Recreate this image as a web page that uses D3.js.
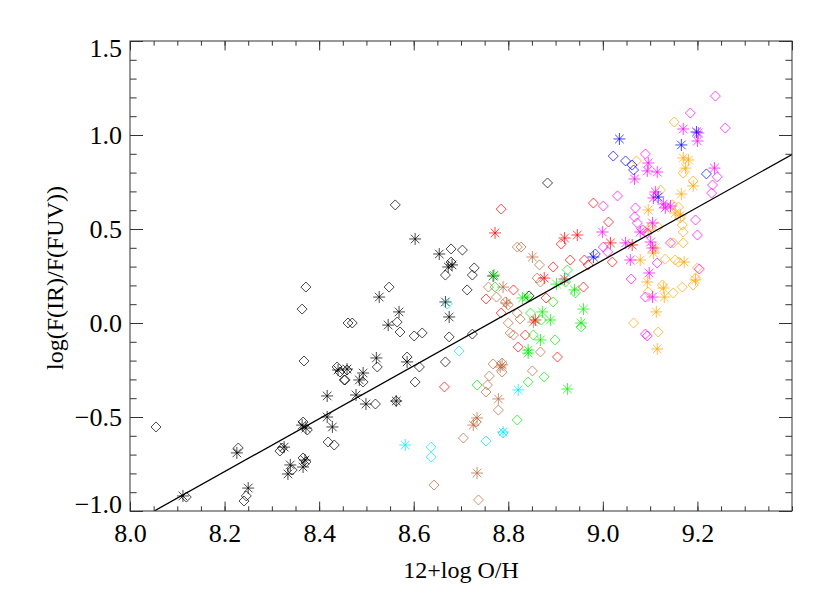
<!DOCTYPE html>
<html>
<head>
<meta charset="utf-8">
<script src="https://cdn.jsdelivr.net/npm/d3@7"></script>
<style>
  body { margin: 0; background: #fff; }
  svg { display: block; }
  svg text { font-family: "Liberation Serif", "Times New Roman", Times, serif !important; fill: #000; }
</style>
</head>
<body>
<script>
// Point groups: [12+log O/H, log(F(IR)/F(FUV))]
const blackDiamonds = [
  [8.372, 0.191], [8.364, 0.074], [8.461, 0.0], [8.055, -0.553], [8.119, -0.926],
  [8.229, -0.665], [8.246, -0.920], [8.241, -0.947], [8.322, -0.665], [8.317, -0.681],
  [8.368, -0.202], [8.343, -0.782], [8.366, -0.527], [8.375, -0.569], [8.366, -0.718],
  [8.372, -0.739], [8.419, -0.633], [8.432, -0.649], [8.438, -0.234], [8.444, -0.261],
  [8.459, -0.25], [8.455, -0.303], [8.883, 0.745], [8.561, 0.628], [8.679, 0.394],
  [8.703, 0.388], [8.679, 0.324], [8.667, 0.255], [8.728, 0.293], [8.724, 0.255],
  [8.548, 0.191], [8.713, 0.176], [8.844, 0.144], [8.565, 0.005], [8.571, -0.048],
  [8.470, 0.0], [8.601, -0.069], [8.618, -0.053], [8.675, -0.074], [8.724, -0.059],
  [8.523, -0.234], [8.493, -0.314], [8.453, -0.303], [8.586, -0.181], [8.612, -0.234],
  [8.667, -0.207], [8.603, -0.314], [8.519, -0.431], [8.563, -0.415]
];
const blackStars = [
  [8.112, -0.920], [8.226, -0.691], [8.250, -0.878], [8.326, -0.660], [8.339, -0.755],
  [8.334, -0.803], [8.364, -0.543], [8.372, -0.559], [8.370, -0.729], [8.366, -0.766],
  [8.417, -0.388], [8.417, -0.500], [8.428, -0.553], [8.440, -0.250], [8.459, -0.245],
  [8.603, 0.447], [8.654, 0.367], [8.673, 0.298], [8.681, 0.309], [8.768, 0.250],
  [8.527, 0.138], [8.569, 0.059], [8.546, -0.011], [8.667, 0.112], [8.675, 0.032],
  [8.521, -0.186], [8.493, -0.266], [8.485, -0.303], [8.586, -0.207], [8.478, -0.383],
  [8.499, -0.431], [8.563, -0.415]
];
const redDiamonds = [
  [8.785, 0.606], [8.912, 0.420], [8.895, 0.298], [8.931, 0.335], [8.811, 0.176],
  [8.753, 0.128], [8.880, 0.133], [8.785, 0.053], [8.836, -0.064], [8.821, -0.128],
  [8.904, -0.181], [8.665, -0.340], [8.980, 0.638], [9.012, 0.537], [8.961, 0.335],
  [8.969, 0.309], [9.020, 0.324], [8.959, 0.191]
];
const redStars = [
  [8.772, 0.479], [8.919, 0.452], [8.876, 0.239], [8.919, 0.234], [8.857, 0.016],
  [8.946, 0.468], [9.016, 0.426], [9.062, 0.415]
];
const brownDiamonds = [
  [8.819, 0.404], [8.827, 0.404], [8.866, 0.309], [8.758, 0.191], [8.775, 0.138],
  [8.861, 0.239], [8.868, 0.218], [8.794, 0.112], [8.800, 0.096], [8.819, 0.053],
  [8.825, 0.021], [8.800, 0.0], [8.804, -0.053], [8.811, -0.064], [8.868, -0.154],
  [8.768, -0.218], [8.787, -0.213], [8.787, -0.261], [8.760, -0.282], [8.756, -0.330],
  [8.753, -0.367], [8.851, -0.255], [8.779, -0.463], [8.732, -0.527], [8.705, -0.612],
  [8.643, -0.862], [8.737, -0.941]
];
const brownStars = [
  [8.851, 0.351], [8.789, 0.191], [8.796, 0.106], [8.853, 0.005], [8.787, -0.223],
  [8.783, -0.234], [8.779, -0.404], [8.726, -0.543], [8.734, -0.505], [8.734, -0.798]
];
const greenDiamonds = [
  [8.772, 0.191], [8.895, 0.112], [8.921, 0.218], [8.847, 0.053], [8.870, 0.016],
  [8.853, -0.064], [8.899, -0.090], [8.734, -0.330], [8.842, -0.314], [8.876, -0.287],
  [8.819, -0.516], [8.925, 0.282], [8.942, 0.160], [8.954, -0.021]
];
const greenStars = [
  [8.770, 0.255], [8.830, 0.133], [8.840, 0.138], [8.902, 0.207], [8.872, 0.059],
  [8.889, 0.016], [8.868, -0.090], [8.842, -0.144], [8.842, -0.160], [8.925, -0.351],
  [8.940, 0.176], [8.959, 0.074], [8.954, 0.0]
];
const cyanDiamonds = [
  [8.671, 0.101], [8.696, -0.149], [8.789, -0.585], [8.753, -0.628], [8.637, -0.660],
  [8.637, -0.713], [8.923, 0.239]
];
const cyanStars = [[8.821, -0.356], [8.789, -0.580], [8.582, -0.649]];
const blueDiamonds = [
  [9.022, 0.888], [9.048, 0.862], [9.062, 0.840], [9.065, 0.814], [9.219, 0.793],
  [8.984, 0.367]
];
const blueStars = [[9.035, 0.979], [9.166, 0.947], [9.198, 1.016], [9.117, 0.670], [8.980, 0.351]];
const magentaDiamonds = [
  [9.238, 1.207], [9.185, 1.117], [9.259, 1.037], [9.090, 0.899], [9.242, 0.777],
  [9.232, 0.734], [9.230, 0.691], [9.031, 0.676], [9.001, 0.622], [9.069, 0.612],
  [9.067, 0.564], [9.073, 0.532], [9.084, 0.495], [9.094, 0.479], [9.196, 0.548],
  [9.200, 0.468], [9.143, 0.426], [9.001, 0.404], [9.010, 0.378], [9.115, 0.319],
  [9.204, 0.287], [9.060, 0.234], [9.090, 0.138], [9.090, -0.059], [9.094, -0.069]
];
const magentaStars = [
  [9.170, 1.032], [9.202, 1.011], [9.200, 0.968], [9.096, 0.851], [9.094, 0.809],
  [9.115, 0.803], [9.067, 0.766], [9.236, 0.824], [9.111, 0.697], [9.107, 0.665],
  [9.128, 0.633], [9.132, 0.612], [9.143, 0.622], [8.999, 0.484], [9.105, 0.532],
  [9.079, 0.484], [9.048, 0.426], [9.101, 0.431], [9.105, 0.399], [9.058, 0.335],
  [9.098, 0.266], [9.105, 0.138]
];
const orangeDiamonds = [
  [9.151, 1.069], [9.071, 0.862], [9.170, 0.798], [9.191, 0.755], [9.122, 0.707],
  [9.147, 0.628], [9.160, 0.617], [9.164, 0.559], [9.168, 0.521], [9.170, 0.484],
  [9.101, 0.511], [9.117, 0.511], [9.170, 0.426], [9.149, 0.426], [9.132, 0.340],
  [9.153, 0.335], [9.160, 0.324], [9.200, 0.293], [9.196, 0.239], [9.096, 0.165],
  [9.126, 0.202], [9.149, 0.160], [9.168, 0.191], [9.191, 0.202], [9.065, 0.0],
  [9.117, -0.048]
];
const orangeStars = [
  [9.170, 0.878], [9.181, 0.867], [9.175, 0.824], [9.191, 0.729], [9.166, 0.686],
  [9.096, 0.601], [9.153, 0.585], [9.164, 0.574], [9.096, 0.495], [9.111, 0.399],
  [9.107, 0.372], [9.079, 0.335], [9.172, 0.324], [9.094, 0.218], [9.128, 0.186],
  [9.130, 0.138], [9.196, 0.229], [9.113, 0.059], [9.115, -0.138]
];

// linear fit drawn across the plot: y = fitA + fitB * x
const fitA = -12.32;
const fitB = 1.406;

const xTicks = [8.0, 8.2, 8.4, 8.6, 8.8, 9.0, 9.2];
const yTicks = [-1.0, -0.5, 0.0, 0.5, 1.0, 1.5];

const groups = [
  { pts: blackDiamonds, sym: "diamond", color: "#000000" },
  { pts: blackStars, sym: "star", color: "#000000" },
  { pts: brownDiamonds, sym: "diamond", color: "#b8683c" },
  { pts: brownStars, sym: "star", color: "#b8683c" },
  { pts: redDiamonds, sym: "diamond", color: "#ff0000" },
  { pts: redStars, sym: "star", color: "#ff0000" },
  { pts: greenDiamonds, sym: "diamond", color: "#00ee00" },
  { pts: greenStars, sym: "star", color: "#00ee00" },
  { pts: cyanDiamonds, sym: "diamond", color: "#00e5ff" },
  { pts: cyanStars, sym: "star", color: "#00e5ff" },
  { pts: orangeDiamonds, sym: "diamond", color: "#ffa500" },
  { pts: orangeStars, sym: "star", color: "#ffa500" },
  { pts: magentaDiamonds, sym: "diamond", color: "#ff00ff" },
  { pts: magentaStars, sym: "star", color: "#ff00ff" },
  { pts: blueDiamonds, sym: "diamond", color: "#0000ff" },
  { pts: blueStars, sym: "star", color: "#0000ff" }
];

const width = 830, height = 593;
const margin = { top: 41, right: 38, bottom: 82, left: 130 };
const plotW = width - margin.left - margin.right;
const plotH = height - margin.top - margin.bottom;
const serif = '"Liberation Serif", "Times New Roman", Times, serif';

const svg = d3.select("body").append("svg")
  .attr("width", width)
  .attr("height", height);

const x = d3.scaleLinear().domain([8.0, 9.4]).range([margin.left, margin.left + plotW]);
const y = d3.scaleLinear().domain([-1.0, 1.5]).range([margin.top + plotH, margin.top]);

svg.append("clipPath").attr("id", "plotClip")
  .append("rect")
  .attr("x", margin.left).attr("y", margin.top)
  .attr("width", plotW).attr("height", plotH);

// symbols
const diamondPath = "M0,-5L5,0L0,5L-5,0Z";
const starPath = "M0,-6V6M-6,0H6M-4.3,-4.3L4.3,4.3M-4.3,4.3L4.3,-4.3";

const marks = svg.append("g").attr("clip-path", "url(#plotClip)");
groups.forEach((g) => {
  marks.append("g")
    .selectAll("path")
    .data(g.pts)
    .enter()
    .append("path")
    .attr("d", g.sym === "diamond" ? diamondPath : starPath)
    .attr("transform", (d) => `translate(${x(d[0])},${y(d[1])})`)
    .attr("fill", "none")
    .attr("stroke", g.color)
    .attr("stroke-width", 1)
    .attr("stroke-opacity", 0.72);
});

// fit line
const lineX0 = (y.domain()[0] - fitA) / fitB;
const lineX1 = x.domain()[1];
marks.append("line")
  .attr("x1", x(lineX0)).attr("y1", y(fitA + fitB * lineX0))
  .attr("x2", x(lineX1)).attr("y2", y(fitA + fitB * lineX1))
  .attr("stroke", "#000")
  .attr("stroke-width", 1.3);

// axes (IDL style: ticks pointing inward on all four sides)
const minorX = d3.range(8.0, 9.4001, 0.05);
const minorY = d3.range(-1.0, 1.5001, 0.1);
const axisColor = "#333";

function styleAxis(g) {
  g.select(".domain").remove();
  g.attr("font-family", serif);
  g.selectAll("line").attr("stroke", axisColor);
}

svg.append("g").attr("transform", `translate(0,${margin.top + plotH})`)
  .call(d3.axisBottom(x).tickValues(minorX).tickSize(-4.7).tickFormat(""))
  .call(styleAxis);
svg.append("g").attr("transform", `translate(0,${margin.top})`)
  .call(d3.axisTop(x).tickValues(minorX).tickSize(-4.7).tickFormat(""))
  .call(styleAxis);
svg.append("g").attr("transform", `translate(0,${margin.top})`)
  .call(d3.axisTop(x).tickValues(xTicks.concat([9.4])).tickSize(-9.4).tickFormat(""))
  .call(styleAxis);

const xAxis = svg.append("g").attr("transform", `translate(0,${margin.top + plotH})`)
  .call(d3.axisBottom(x).tickValues(xTicks).tickSize(-9.4).tickFormat(d3.format(".1f")))
  .call(styleAxis);
xAxis.selectAll("text")
  .attr("y", 31)
  .attr("dy", 0)
  .attr("font-size", 26)
  .style("font-family", serif);

svg.append("g").attr("transform", `translate(${margin.left},0)`)
  .call(d3.axisLeft(y).tickValues(minorY).tickSize(-6.6).tickFormat(""))
  .call(styleAxis);
svg.append("g").attr("transform", `translate(${margin.left + plotW},0)`)
  .call(d3.axisRight(y).tickValues(minorY).tickSize(-6.6).tickFormat(""))
  .call(styleAxis);
svg.append("g").attr("transform", `translate(${margin.left + plotW},0)`)
  .call(d3.axisRight(y).tickValues(yTicks).tickSize(-13).tickFormat(""))
  .call(styleAxis);

const yAxis = svg.append("g").attr("transform", `translate(${margin.left},0)`)
  .call(d3.axisLeft(y).tickValues(yTicks).tickSize(-13).tickFormat(d3.format(".1f")))
  .call(styleAxis);
yAxis.selectAll("text")
  .attr("x", -8)
  .attr("dy", (d) => (d === -1.0 ? "0.05em" : d === 1.5 ? "0.6em" : "0.33em"))
  .attr("font-size", 26)
  .style("font-family", serif);

// frame
svg.append("rect")
  .attr("x", margin.left).attr("y", margin.top)
  .attr("width", plotW).attr("height", plotH)
  .attr("fill", "none")
  .attr("stroke", axisColor)
  .attr("stroke-width", 1);

// titles
svg.append("text")
  .attr("x", 461)
  .attr("y", 578)
  .attr("text-anchor", "middle")
  .attr("font-size", 24)
  .style("font-family", serif)
  .text("12+log O/H");

svg.append("text")
  .attr("transform", `translate(63,${margin.top + plotH / 2 + 2}) rotate(-90)`)
  .attr("text-anchor", "middle")
  .attr("font-size", 24)
  .style("font-family", serif)
  .text("log(F(IR)/F(FUV))");
</script>
</body>
</html>
